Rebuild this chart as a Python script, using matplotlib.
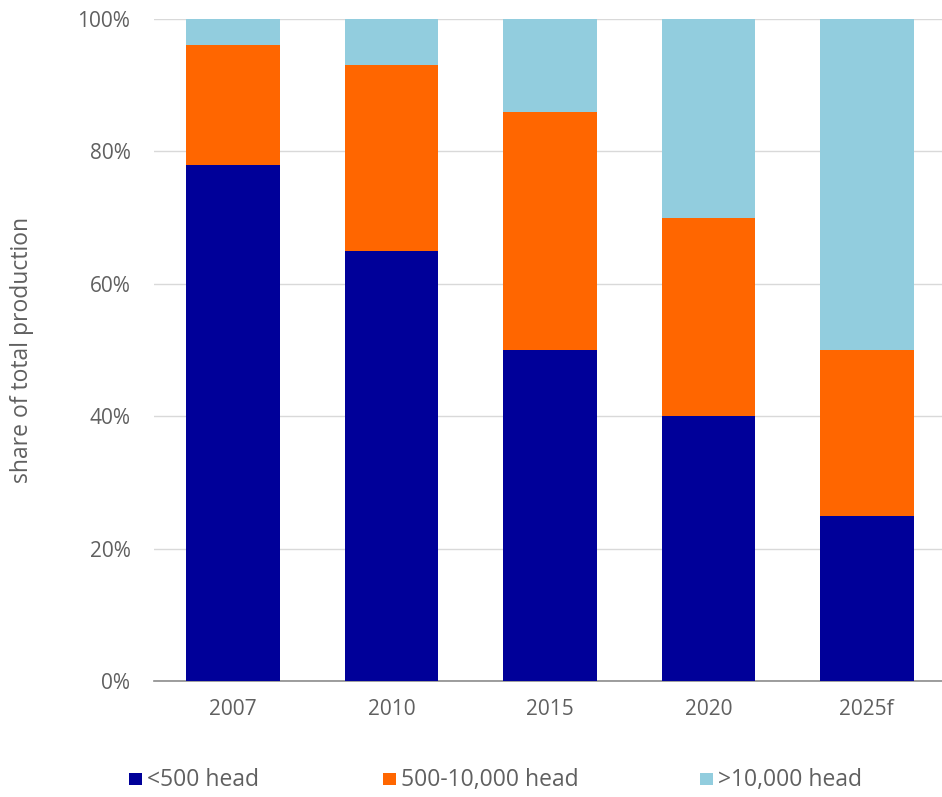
import matplotlib
matplotlib.use("Agg")
import matplotlib.pyplot as plt
from matplotlib.patches import Rectangle
from matplotlib.ticker import FuncFormatter

categories = ["2007", "2010", "2015", "2020", "2025f"]
small = [78, 65, 50, 40, 25]
medium = [18, 28, 36, 30, 25]
large = [4, 7, 14, 30, 50]
series_names = ["<500 head", "500-10,000 head", ">10,000 head"]
colors = ["#000099", "#FF6600", "#92CDDE"]
yticks = [0, 20, 40, 60, 80, 100]

plt.rcParams['font.family'] = ['Open Sans', 'DejaVu Sans']

W, H = 942, 797
fig = plt.figure(figsize=(W/100, H/100), dpi=100)
ax = fig.add_axes([154/W, (H-681)/H, (946-154)/W, (681-19)/H])

x = list(range(len(categories)))
bottom = [0]*len(categories)
for vals, c, name in zip([small, medium, large], colors, series_names):
    ax.bar(x, vals, width=0.59, bottom=bottom, color=c, label=name, zorder=3, linewidth=0)
    bottom = [b+v for b, v in zip(bottom, vals)]

ax.set_xlim(-0.5, len(categories)-0.5)
ax.set_ylim(0, 100)
ax.set_yticks(yticks)
ax.yaxis.set_major_formatter(FuncFormatter(lambda v, p: f"{int(v)}%"))
ax.set_xticks(x)
ax.set_xticklabels(categories)
ax.grid(axis='y', color='#d9d9d9', linewidth=1, zorder=0)
for s in ['left', 'right', 'top']:
    ax.spines[s].set_visible(False)
ax.spines['bottom'].set_color('#8c8c8c')
ax.spines['bottom'].set_linewidth(1.2)
ax.tick_params(axis='both', length=0, labelsize=15, labelcolor='#606060')
ax.tick_params(axis='x', pad=13)
ax.tick_params(axis='y', pad=17)
ax.set_ylabel("share of total production", fontsize=16.5, color='#606060')
ax.yaxis.set_label_coords(-0.151, 0.5)

# legend
leg_x = [129, 383, 700]
for lx, c, name in zip(leg_x, colors, series_names):
    fig.add_artist(Rectangle((lx/W, (H-785)/H), 13/W, 12/H, transform=fig.transFigure,
                             color=c, linewidth=0))
    fig.text((lx+18)/W, (H-780)/H, name, fontsize=16.5, color='#606060', va='center', ha='left')

fig.savefig("out.png", dpi=100)
